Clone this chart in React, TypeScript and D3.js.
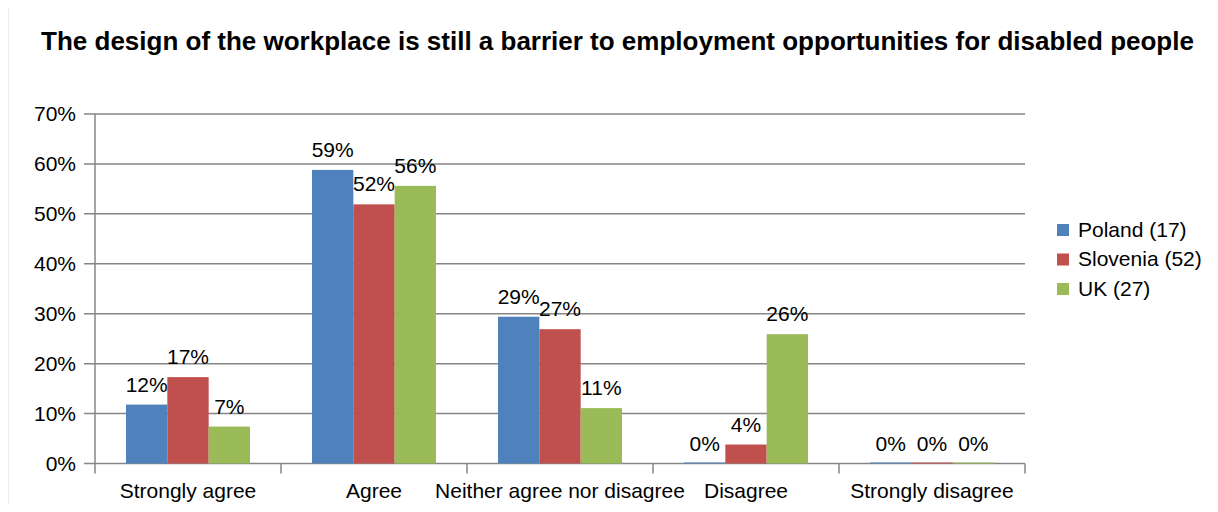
import React from "react";
import * as d3 from "d3";

const title = "The design of the workplace is still a barrier to employment opportunities for disabled people";
const categories = ["Strongly agree", "Agree", "Neither agree nor disagree", "Disagree", "Strongly disagree"];
const seriesNames = ["Poland (17)", "Slovenia (52)", "UK (27)"];
const poland = [11.8, 58.8, 29.4, 0, 0];
const slovenia = [17.3, 51.9, 26.9, 3.8, 0];
const uk = [7.4, 55.6, 11.1, 25.9, 0];
const colors = ["#4f81bd", "#c0504d", "#9bbb59"];
const yTicks = [0, 10, 20, 30, 40, 50, 60, 70];

const W = 1218;
const H = 512;
const FONT = "'Liberation Sans', Arial, sans-serif";

export default function App() {
  const series = [poland, slovenia, uk];
  const left = 95, right = 1025, top = 114, bottom = 463.5;
  const x0 = d3.scaleBand<string>().domain(categories).range([left, right]).paddingInner(0).paddingOuter(0);
  const step = x0.bandwidth();
  const barW = step / 4.5;
  const offset = step * 0.75 / 4.5;
  const y = d3.scaleLinear().domain([0, 70]).range([bottom, top]);
  const grid = "#868686";
  const fs = 21;

  return (
    <div style={{ margin: -8 }}>
      <svg width={W} height={H} style={{ display: "block", fontFamily: FONT }}>
        <rect x={0} y={0} width={W} height={H} fill="#fff" />
        <rect x={7.5} y={5.5} width={W + 20} height={H + 20} fill="#fff" stroke="#d9d9d9" strokeWidth={2} />
        <text x={617.5} y={50} textAnchor="middle" fontWeight="bold" fontSize={26} fill="#000">{title}</text>
        {yTicks.map((t) => (
          <g key={t}>
            <line x1={left - 11} x2={right} y1={y(t)} y2={y(t)} stroke={grid} strokeWidth={1.5} />
            <text x={left - 19} y={y(t)} dy="0.35em" textAnchor="end" fontSize={fs} fill="#000">{t}%</text>
          </g>
        ))}
        <line x1={left} x2={left} y1={top} y2={bottom + 10} stroke={grid} strokeWidth={1.5} />
        {categories.map((c) => (
          <g key={c}>
            <line x1={x0(c)! + step} x2={x0(c)! + step} y1={bottom} y2={bottom + 10} stroke={grid} strokeWidth={1.5} />
            <text x={x0(c)! + step / 2} y={498} textAnchor="middle" fontSize={fs} fill="#000">{c}</text>
          </g>
        ))}
        {categories.map((c, i) => (
          <g key={c}>
            {series.map((s, j) => {
              const bx = x0(c)! + offset + j * barW;
              const by = y(s[i]);
              const zero = s[i] === 0;
              return (
                <g key={j}>
                  <rect x={bx} y={by - (zero ? 1 : 0)} width={barW} height={Math.max(bottom - by, 0) + (zero ? 1 : 0)} fill={colors[j]} />
                  <text x={bx + barW / 2} y={by - 13} textAnchor="middle" fontSize={fs} fill="#000">{Math.round(s[i])}%</text>
                </g>
              );
            })}
          </g>
        ))}
        {seriesNames.map((n, j) => (
          <g key={n}>
            <rect x={1057} y={224 + j * 29.5} width={12} height={12} fill={colors[j]} />
            <text x={1078} y={229.5 + j * 29.5} dy="0.35em" fontSize={fs} fill="#000">{n}</text>
          </g>
        ))}
      </svg>
    </div>
  );
}
